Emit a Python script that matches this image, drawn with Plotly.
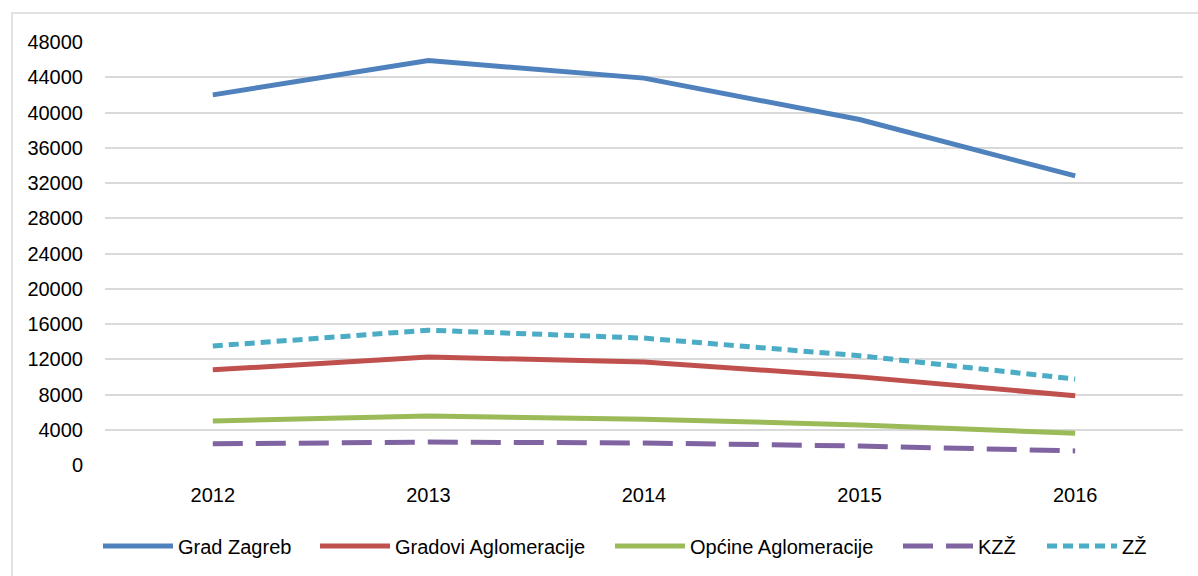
import plotly.graph_objects as go

years = ["2012", "2013", "2014", "2015", "2016"]
grad_zagreb = [42000, 45900, 43900, 39200, 32800]
gradovi_aglomeracije = [10800, 12250, 11700, 10000, 7850]
opcine_aglomeracije = [5000, 5550, 5200, 4550, 3600]
kzz = [2400, 2600, 2500, 2150, 1600]
zz = [13500, 15300, 14400, 12400, 9750]
y_ticks = list(range(0, 48001, 4000))

series = [
    ("Grad Zagreb", grad_zagreb, "#4F81BD", "solid"),
    ("Gradovi Aglomeracije", gradovi_aglomeracije, "#C0504D", "solid"),
    ("Općine Aglomeracije", opcine_aglomeracije, "#9BBB59", "solid"),
    ("KZŽ", kzz, "#8064A2", "30px,13px"),
    ("ZŽ", zz, "#4BACC6", "10px,6px"),
]

FONT = "Liberation Sans, Arial, sans-serif"

W, H = 1198, 576
L, R, T, B = 105, 15, 42, 111
pw, ph = W - L - R, H - T - B

def px_x(p):
    return (p - L) / pw

def px_y(p):
    return (H - B - p) / ph

# left edge (px) of each legend entry along the bottom row
legend_left = [98, 315, 610, 898, 1042]

fig = go.Figure()
layout_legends = {}
for i, (name, vals, color, dash) in enumerate(series):
    key = "legend" if i == 0 else f"legend{i + 1}"
    fig.add_trace(go.Scatter(
        x=years, y=vals, name=name, mode="lines",
        line=dict(color=color, width=5, dash=dash),
        legend=key,
    ))
    layout_legends[key] = dict(
        orientation="h", x=px_x(legend_left[i]), y=px_y(546),
        yanchor="middle", xanchor="left",
        font=dict(family=FONT, size=20), itemwidth=70,
        bgcolor="rgba(0,0,0,0)",
    )

fig.update_layout(
    width=W, height=H,
    margin=dict(l=L, r=R, t=T, b=B, autoexpand=False),
    paper_bgcolor="white", plot_bgcolor="white",
    font=dict(family=FONT, size=20, color="#000000"),
    showlegend=True,
    xaxis=dict(
        type="category", range=[-0.5, 4.5], showgrid=False, zeroline=False,
        showline=False, ticks="", ticklabelstandoff=16,
        tickfont=dict(family=FONT, size=20),
    ),
    yaxis=dict(
        range=[0, 48000], tickvals=y_ticks, ticktext=[str(v) for v in y_ticks],
        showgrid=True, gridcolor="#D9D9D9", gridwidth=1.5, zeroline=False,
        showline=False, ticks="", ticklabelstandoff=21,
        tickfont=dict(family=FONT, size=20),
    ),
    shapes=[dict(
        type="rect", xref="paper", yref="paper",
        x0=px_x(12), x1=px_x(1205), y0=px_y(590), y1=px_y(13),
        line=dict(color="#D9D9D9", width=1.5), fillcolor="rgba(0,0,0,0)",
        layer="below",
    )],
    **layout_legends,
)

fig.write_html("out.html")
